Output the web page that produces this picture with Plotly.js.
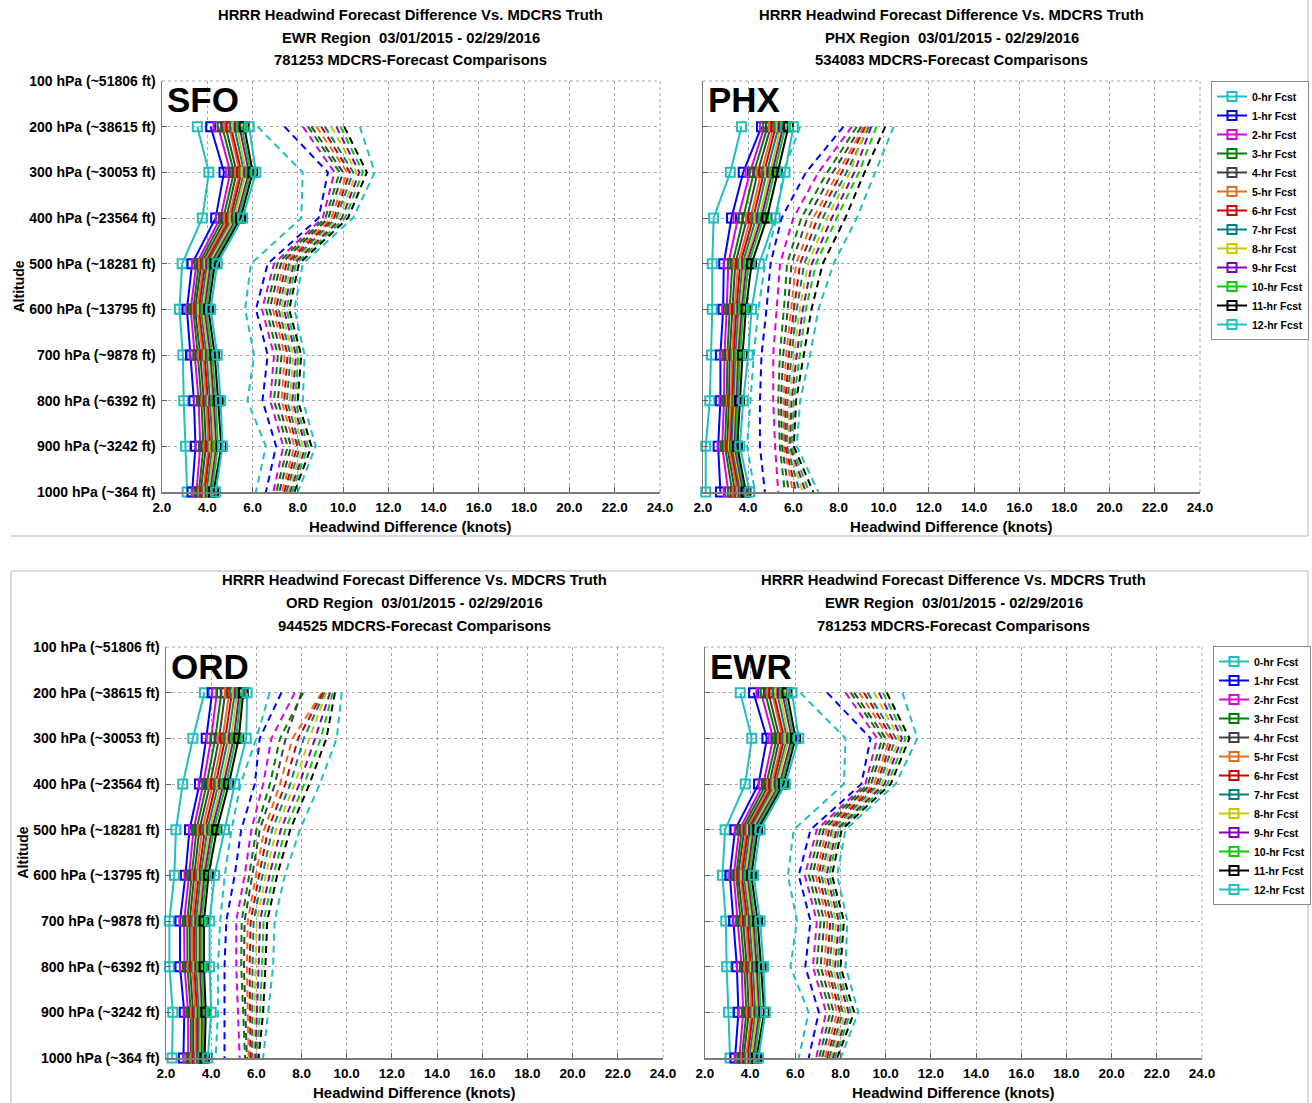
<!DOCTYPE html>
<html>
<head>
<meta charset="utf-8">
<script src="https://cdn.plot.ly/plotly-3.0.1.min.js"></script>
<style>
html,body{margin:0;padding:0;background:#fff;}
#chart{width:1312px;height:1103px;}
</style>
</head>
<body>
<div id="chart"></div>
<script>
// ---------------- DATA ----------------
const levels = [200, 300, 400, 500, 600, 700, 800, 900, 1000];
const yTickVals = [100, 200, 300, 400, 500, 600, 700, 800, 900, 1000];
const yTickText = ['100 hPa (~51806 ft)', '200 hPa (~38615 ft)', '300 hPa (~30053 ft)', '400 hPa (~23564 ft)',
  '500 hPa (~18281 ft)', '600 hPa (~13795 ft)', '700 hPa (~9878 ft)', '800 hPa (~6392 ft)',
  '900 hPa (~3242 ft)', '1000 hPa (~364 ft)'];
const xTickVals = [2, 4, 6, 8, 10, 12, 14, 16, 18, 20, 22, 24];
const xTickText = ['2.0', '4.0', '6.0', '8.0', '10.0', '12.0', '14.0', '16.0', '18.0', '20.0', '22.0', '24.0'];
const fcstNames = ['0-hr Fcst', '1-hr Fcst', '2-hr Fcst', '3-hr Fcst', '4-hr Fcst', '5-hr Fcst', '6-hr Fcst',
  '7-hr Fcst', '8-hr Fcst', '9-hr Fcst', '10-hr Fcst', '11-hr Fcst', '12-hr Fcst'];

// EWR region (also shown in the panel labelled SFO)
const ewrSolid = [
  [3.56, 4.07, 3.78, 2.89, 2.77, 2.92, 2.96, 3.04, 3.11],
  [4.15, 4.74, 4.37, 3.33, 3.10, 3.26, 3.41, 3.48, 3.33],
  [4.48, 5.02, 4.58, 3.52, 3.27, 3.44, 3.62, 3.69, 3.52],
  [4.66, 5.18, 4.71, 3.63, 3.38, 3.58, 3.74, 3.83, 3.63],
  [4.81, 5.30, 4.84, 3.74, 3.46, 3.69, 3.85, 3.94, 3.71],
  [4.96, 5.43, 4.95, 3.83, 3.56, 3.80, 3.95, 4.05, 3.82],
  [5.04, 5.51, 5.03, 3.91, 3.63, 3.88, 4.03, 4.13, 3.88],
  [5.19, 5.63, 5.12, 3.99, 3.72, 3.97, 4.12, 4.23, 3.97],
  [5.31, 5.71, 5.19, 4.08, 3.79, 4.06, 4.22, 4.30, 4.05],
  [5.42, 5.84, 5.30, 4.15, 3.88, 4.14, 4.29, 4.40, 4.13],
  [5.52, 5.92, 5.37, 4.24, 3.95, 4.22, 4.38, 4.47, 4.20],
  [5.63, 6.01, 5.47, 4.33, 4.05, 4.33, 4.48, 4.62, 4.28],
  [5.85, 6.15, 5.56, 4.44, 4.15, 4.44, 4.59, 4.67, 4.37]
];
const ewrDashed = [
  [6.22, 8.22, 8.15, 5.93, 5.67, 6.07, 5.78, 6.59, 6.15],
  [7.41, 9.33, 8.92, 6.67, 6.15, 6.67, 6.44, 7.04, 6.59],
  [8.22, 9.62, 9.10, 6.95, 6.42, 6.95, 6.78, 7.36, 6.92],
  [8.45, 9.85, 9.22, 7.10, 6.60, 7.12, 6.95, 7.55, 7.05],
  [8.60, 10.00, 9.35, 7.25, 6.75, 7.28, 7.12, 7.70, 7.18],
  [8.82, 10.18, 9.48, 7.38, 6.90, 7.42, 7.28, 7.85, 7.30],
  [9.04, 10.30, 9.60, 7.50, 7.02, 7.55, 7.40, 7.98, 7.40],
  [9.20, 10.45, 9.70, 7.62, 7.15, 7.68, 7.52, 8.10, 7.50],
  [9.48, 10.60, 9.82, 7.72, 7.26, 7.80, 7.65, 8.22, 7.58],
  [9.70, 10.72, 9.95, 7.82, 7.38, 7.92, 7.76, 8.35, 7.66],
  [9.88, 10.88, 10.08, 7.92, 7.50, 8.02, 7.88, 8.45, 7.75],
  [10.05, 11.05, 10.22, 8.05, 7.62, 8.15, 8.00, 8.60, 7.85],
  [10.74, 11.40, 10.44, 8.22, 7.85, 8.30, 8.22, 8.79, 8.00]
];
// PHX region
const phxSolid = [
  [3.70, 3.21, 2.47, 2.41, 2.41, 2.37, 2.30, 2.12, 2.12],
  [4.59, 3.78, 3.26, 2.92, 2.89, 2.77, 2.77, 2.67, 2.77],
  [4.72, 4.08, 3.55, 3.12, 3.05, 2.95, 2.93, 2.85, 3.12],
  [4.86, 4.25, 3.78, 3.30, 3.18, 3.08, 3.05, 2.97, 3.30],
  [5.00, 4.42, 3.95, 3.43, 3.30, 3.18, 3.15, 3.07, 3.42],
  [5.12, 4.58, 4.10, 3.55, 3.40, 3.28, 3.24, 3.15, 3.52],
  [5.22, 4.70, 4.22, 3.65, 3.48, 3.36, 3.31, 3.22, 3.60],
  [5.35, 4.82, 4.35, 3.75, 3.57, 3.44, 3.38, 3.29, 3.66],
  [5.45, 4.95, 4.48, 3.84, 3.65, 3.51, 3.44, 3.35, 3.72],
  [5.55, 5.05, 4.58, 3.93, 3.72, 3.57, 3.50, 3.40, 3.78],
  [5.65, 5.15, 4.68, 4.02, 3.79, 3.64, 3.55, 3.45, 3.84],
  [5.78, 5.30, 4.83, 4.15, 3.90, 3.75, 3.62, 3.52, 3.90],
  [6.00, 5.63, 5.19, 4.49, 4.15, 4.00, 3.78, 3.63, 4.07]
];
const phxDashed = [
  [6.30, 5.55, 5.25, 4.75, 4.45, 4.25, 4.10, 3.95, 4.30],
  [8.22, 6.56, 5.48, 4.99, 4.81, 4.59, 4.52, 4.52, 4.74],
  [8.59, 7.11, 6.00, 5.41, 5.26, 5.11, 5.11, 5.19, 5.33],
  [8.81, 7.50, 6.35, 5.72, 5.58, 5.40, 5.33, 5.40, 5.62],
  [9.00, 7.75, 6.62, 5.92, 5.75, 5.55, 5.45, 5.50, 5.80],
  [9.12, 7.98, 6.88, 6.12, 5.90, 5.68, 5.56, 5.58, 5.98],
  [9.20, 8.15, 7.08, 6.30, 6.02, 5.80, 5.65, 5.65, 6.12],
  [9.35, 8.35, 7.30, 6.48, 6.15, 5.92, 5.74, 5.72, 6.28],
  [9.25, 8.50, 7.50, 6.65, 6.28, 6.03, 5.82, 5.78, 6.42],
  [9.45, 8.70, 7.70, 6.82, 6.42, 6.15, 5.92, 5.85, 6.55],
  [9.68, 8.90, 7.92, 7.00, 6.55, 6.27, 6.02, 5.92, 6.70],
  [10.07, 9.15, 8.30, 7.30, 6.80, 6.45, 6.12, 6.02, 6.88],
  [10.44, 9.63, 8.81, 7.78, 7.11, 6.74, 6.30, 6.15, 7.11]
];
// ORD region
const ordSolid = [
  [3.70, 3.19, 2.74, 2.44, 2.37, 2.15, 2.15, 2.30, 2.27],
  [4.04, 3.78, 3.48, 3.04, 2.86, 2.62, 2.62, 2.81, 2.77],
  [4.25, 4.00, 3.65, 3.22, 3.02, 2.80, 2.82, 2.98, 2.98],
  [4.45, 4.18, 3.80, 3.35, 3.14, 2.94, 2.95, 3.10, 3.10],
  [4.62, 4.35, 3.95, 3.48, 3.25, 3.05, 3.06, 3.20, 3.20],
  [4.80, 4.50, 4.08, 3.60, 3.35, 3.15, 3.16, 3.30, 3.30],
  [4.92, 4.62, 4.20, 3.72, 3.45, 3.24, 3.25, 3.38, 3.38],
  [5.05, 4.75, 4.32, 3.83, 3.54, 3.33, 3.34, 3.46, 3.45],
  [5.15, 4.88, 4.44, 3.93, 3.62, 3.42, 3.42, 3.53, 3.52],
  [5.25, 5.00, 4.55, 4.03, 3.70, 3.50, 3.50, 3.60, 3.58],
  [5.33, 5.10, 4.66, 4.12, 3.78, 3.58, 3.58, 3.67, 3.64],
  [5.42, 5.22, 4.78, 4.25, 3.88, 3.68, 3.68, 3.76, 3.71],
  [5.59, 5.55, 5.04, 4.59, 4.15, 3.93, 3.93, 4.00, 3.85]
];
const ordDashed = [
  [6.59, 6.00, 5.30, 4.90, 4.60, 4.40, 4.30, 4.30, 4.20],
  [7.11, 6.15, 5.93, 5.33, 5.04, 4.67, 4.59, 4.59, 4.59],
  [7.70, 6.67, 6.30, 5.78, 5.48, 5.11, 5.11, 5.19, 5.26],
  [8.07, 7.05, 6.60, 6.00, 5.68, 5.35, 5.33, 5.42, 5.50],
  [8.00, 7.30, 6.82, 6.15, 5.82, 5.48, 5.45, 5.52, 5.58],
  [8.90, 7.60, 7.05, 6.35, 5.98, 5.62, 5.58, 5.62, 5.66],
  [8.95, 7.85, 7.28, 6.52, 6.12, 5.75, 5.70, 5.72, 5.74],
  [9.02, 8.10, 7.50, 6.70, 6.27, 5.88, 5.83, 5.82, 5.81],
  [9.10, 8.35, 7.70, 6.88, 6.42, 6.02, 5.96, 5.93, 5.88],
  [9.26, 8.60, 7.90, 7.08, 6.58, 6.16, 6.10, 6.04, 5.95],
  [9.38, 8.85, 8.12, 7.28, 6.75, 6.32, 6.25, 6.16, 6.02],
  [9.48, 9.10, 8.35, 7.50, 6.92, 6.48, 6.40, 6.30, 6.10],
  [9.78, 9.56, 8.81, 7.93, 7.26, 6.81, 6.74, 6.52, 6.30]
];

// ---------------- STYLE ----------------
const colors = ['#1fbfbf', '#0000ff', '#e000e0', '#008000', '#404040', '#e07020', '#d00000',
  '#008080', '#c8c800', '#8000c0', '#00d000', '#000000', '#1fbfbf'];
const FONT = 'Liberation Sans Narrow, Arial Narrow, Liberation Sans, Arial, sans-serif';
const W = 1312, H = 1103;

const panels = [
  {label: 'SFO', solid: ewrSolid, dashed: ewrDashed, xa: 'x', ya: 'y', legend: null,
   t2: 'EWR Region  03/01/2015 - 02/29/2016', t3: '781253 MDCRS-Forecast Comparisons',
   px: [162, 660], py: [81, 492], ty: [15, 38, 60], showY: true},
  {label: 'PHX', solid: phxSolid, dashed: phxDashed, xa: 'x2', ya: 'y2', legend: 'legend',
   t2: 'PHX Region  03/01/2015 - 02/29/2016', t3: '534083 MDCRS-Forecast Comparisons',
   px: [703, 1200], py: [81, 492], ty: [15, 38, 60], showY: false},
  {label: 'ORD', solid: ordSolid, dashed: ordDashed, xa: 'x3', ya: 'y3', legend: null,
   t2: 'ORD Region  03/01/2015 - 02/29/2016', t3: '944525 MDCRS-Forecast Comparisons',
   px: [166, 663], py: [647, 1058], ty: [580, 603, 626], showY: true},
  {label: 'EWR', solid: ewrSolid, dashed: ewrDashed, xa: 'x4', ya: 'y4', legend: 'legend2',
   t2: 'EWR Region  03/01/2015 - 02/29/2016', t3: '781253 MDCRS-Forecast Comparisons',
   px: [705, 1202], py: [647, 1058], ty: [580, 603, 626], showY: false}
];

const traces = [];
const annotations = [];
const layout = {
  width: W, height: H, autosize: false,
  margin: {l: 0, r: 0, t: 0, b: 0},
  paper_bgcolor: '#ffffff', plot_bgcolor: '#ffffff',
  font: {family: FONT, size: 13, color: '#000', weight: 700},
  showlegend: true,
  shapes: [],
  annotations: annotations
};

const fy = p => 1 - p / H;
const fx = p => p / W;

panels.forEach((p, pi) => {
  // solid lines with open square markers
  p.solid.forEach((vals, i) => {
    traces.push({
      type: 'scatter', mode: 'lines+markers', x: vals, y: levels,
      xaxis: p.xa, yaxis: p.ya, name: fcstNames[i],
      line: {color: colors[i], width: 2},
      marker: {symbol: 'square-open', size: 9, color: colors[i], line: {width: 2, color: colors[i]}},
      cliponaxis: false,
      showlegend: p.legend !== null,
      legend: p.legend || 'legend',
      hoverinfo: 'x+y+name'
    });
  });
  // dashed lines
  p.dashed.forEach((vals, i) => {
    traces.push({
      type: 'scatter', mode: 'lines', x: vals, y: levels,
      xaxis: p.xa, yaxis: p.ya, name: fcstNames[i],
      line: {color: colors[i], width: 2, dash: '7px,5px'},
      showlegend: false, hoverinfo: 'x+y+name'
    });
  });

  const xk = 'xaxis' + (pi === 0 ? '' : pi + 1);
  const yk = 'yaxis' + (pi === 0 ? '' : pi + 1);
  layout[xk] = {
    domain: [fx(p.px[0]), fx(p.px[1])], anchor: p.ya, range: [2, 24],
    tickvals: xTickVals, ticktext: xTickText,
    ticks: 'inside', ticklen: 5, tickcolor: '#606060', tickwidth: 1,
    showline: true, linecolor: '#7a7a7a', linewidth: 1.5, mirror: false,
    showgrid: true, gridcolor: '#a8a8a8', griddash: 'dot', gridwidth: 1,
    zeroline: false, tickfont: {family: FONT, size: 13.5, weight: 700, color: '#000'},
    ticklabelstandoff: 2, fixedrange: true
  };
  layout[yk] = {
    domain: [fy(p.py[1]), fy(p.py[0])], anchor: p.xa, range: [1000, 100],
    tickvals: yTickVals, ticktext: yTickText, showticklabels: p.showY,
    ticks: 'inside', ticklen: 5, tickcolor: '#606060', tickwidth: 1,
    showline: true, linecolor: '#7a7a7a', linewidth: 1.5, mirror: false,
    showgrid: true, gridcolor: '#a8a8a8', griddash: 'dot', gridwidth: 1,
    zeroline: false, tickfont: {family: FONT, size: 14, weight: 700, color: '#000'},
    ticklabelstandoff: 2, fixedrange: true
  };
  // close the frame on top/right with dotted lines
  layout.shapes.push({type: 'line', xref: 'paper', yref: 'paper',
    x0: fx(p.px[0]), x1: fx(p.px[1]), y0: fy(p.py[0]), y1: fy(p.py[0]),
    line: {color: '#a8a8a8', width: 1, dash: 'dot'}});
  layout.shapes.push({type: 'line', xref: 'paper', yref: 'paper',
    x0: fx(p.px[1]), x1: fx(p.px[1]), y0: fy(p.py[0]), y1: fy(p.py[1]),
    line: {color: '#a8a8a8', width: 1, dash: 'dot'}});

  const cx = fx((p.px[0] + p.px[1]) / 2);
  ['HRRR Headwind Forecast Difference Vs. MDCRS Truth', p.t2, p.t3].forEach((t, k) => {
    annotations.push({text: t, xref: 'paper', yref: 'paper', x: cx, y: fy(p.ty[k]),
      xanchor: 'center', yanchor: 'middle', showarrow: false,
      font: {family: FONT, size: 14.8, weight: 700, color: '#000'}});
  });
  // x axis title
  annotations.push({text: 'Headwind Difference (knots)', xref: 'paper', yref: 'paper',
    x: cx, y: fy(p.py[1] + 34), xanchor: 'center', yanchor: 'middle', showarrow: false,
    font: {family: FONT, size: 15, weight: 700, color: '#000'}});
  // y axis title
  if (p.showY) {
    annotations.push({text: 'Altitude', xref: 'paper', yref: 'paper', textangle: -90,
      x: fx(p.px[0] - 144), y: fy((p.py[0] + p.py[1]) / 2), xanchor: 'center', yanchor: 'middle',
      showarrow: false, font: {family: FONT, size: 14, weight: 700, color: '#000'}});
  }
  // panel label
  annotations.push({text: p.label, xref: 'paper', yref: 'paper',
    x: fx(p.px[0] + 3), y: fy(p.py[0] + 19), xanchor: 'left', yanchor: 'middle', showarrow: false,
    font: {family: 'Liberation Sans, Arial, sans-serif', size: 35, weight: 700, color: '#000'}});
});

const legendCommon = {
  bgcolor: '#ffffff', bordercolor: '#8a8a8a', borderwidth: 1,
  font: {family: FONT, size: 10.5, weight: 700, color: '#000'},
  xanchor: 'left', yanchor: 'top', tracegroupgap: 0, itemwidth: 30, traceorder: 'normal'
};
layout.legend = Object.assign({}, legendCommon, {x: fx(1211), y: fy(81)});
layout.legend2 = Object.assign({}, legendCommon, {x: fx(1213), y: fy(646)});

// figure borders of the four screenshots
const bc = '#cfcfcf';
layout.shapes.push(
  {type: 'line', xref: 'paper', yref: 'paper', x0: fx(11), x1: fx(1308), y0: fy(536), y1: fy(536), line: {color: bc, width: 1.5}},
  {type: 'line', xref: 'paper', yref: 'paper', x0: fx(1308), x1: fx(1308), y0: fy(0), y1: fy(536), line: {color: bc, width: 1.5}},
  {type: 'line', xref: 'paper', yref: 'paper', x0: fx(11), x1: fx(1308), y0: fy(571), y1: fy(571), line: {color: bc, width: 1.5}},
  {type: 'line', xref: 'paper', yref: 'paper', x0: fx(11), x1: fx(11), y0: fy(571), y1: fy(1103), line: {color: bc, width: 1.5}},
  {type: 'line', xref: 'paper', yref: 'paper', x0: fx(1308), x1: fx(1308), y0: fy(571), y1: fy(1103), line: {color: bc, width: 1.5}}
);

Plotly.newPlot('chart', traces, layout, {displayModeBar: false, staticPlot: true});
</script>
</body>
</html>
